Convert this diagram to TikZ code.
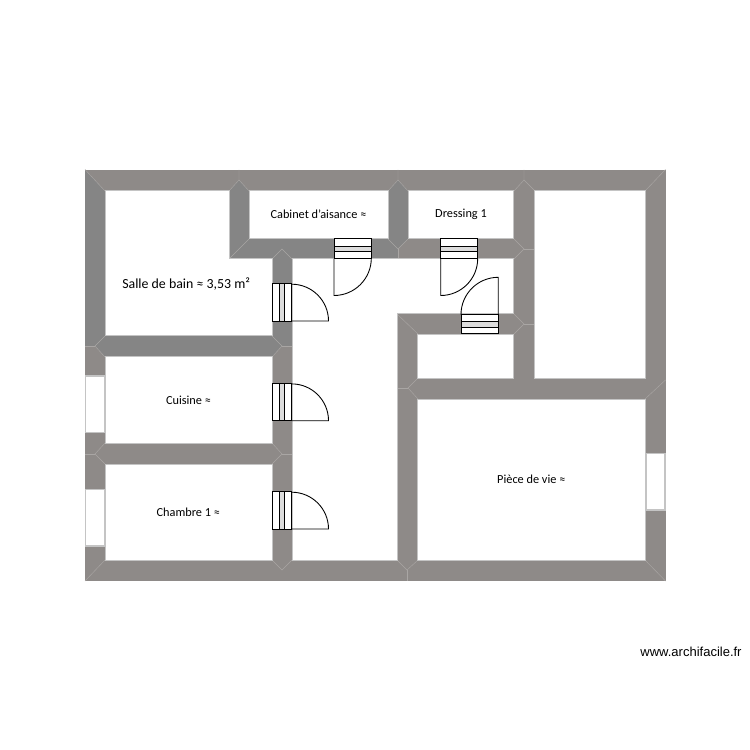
\documentclass[tikz,border=0pt]{standalone}
\usepackage{fontspec}
\setmainfont{Carlito}
\newfontfamily\markfont{Liberation Sans}
\definecolor{wallmain}{HTML}{8E8A88}
\definecolor{walldark}{HTML}{858585}
\definecolor{seamgray}{HTML}{A9A6A4}
\definecolor{edgegray}{HTML}{C4C4C4}
\definecolor{bandgray}{HTML}{DCDCDC}
\begin{document}
\begin{tikzpicture}[x=.02cm, y=-.02cm,
wall/.style={fill=wallmain},
wallb/.style={fill=walldark},
room/.style={fill=white, draw=edgegray, line width=.4pt},
windowbox/.style={fill=white, draw=edgegray, line width=.7pt},
seam/.style={draw=seamgray, line width=.25pt},
doorline/.style={draw=black, line width=.5pt},
doorbox/.style={fill=white, draw=black, line width=.5pt},
band/.style={fill=bandgray, draw=black, line width=.5pt},
roomlabel/.style={inner sep=0pt, font=\fontsize{7}{8}\selectfont},
bigroomlabel/.style={inner sep=0pt, font=\fontsize{7.9}{9}\selectfont},
marklabel/.style={inner sep=0pt, font=\markfont\fontsize{7.4}{9}\selectfont}]
\useasboundingbox (0,0) rectangle (750,750);
\fill[wall] (85,169.5) rectangle (665.5,581);
\fill[wallb] (85,169.5) -- (105,191) -- (105,336) -- (95,346) -- (85,346) -- cycle;
\fill[wallb] (239,180) -- (249,191) -- (249,239) -- (388,239) -- (398,249) -- (398,259) -- (292,259) -- (282,249) -- (272,259) -- (229,259) -- (229,191) -- cycle;
\fill[wallb] (282,249) -- (292,259) -- (292,346) -- (282,346) -- (272,336) -- (272,259) -- cycle;
\fill[wallb] (95,346) -- (105,336) -- (272,336) -- (282,346) -- (272,357) -- (105,357) -- cycle;
\fill[wallb] (398,180) -- (408,191) -- (408,239) -- (398,249) -- (388,239) -- (388,191) -- cycle;
\draw[seam] (85,169.5) -- (105,191);
\draw[seam] (239,169.5) -- (239,180) -- (229,191);
\draw[seam] (239,180) -- (249,191);
\draw[seam] (398,169.5) -- (398,180) -- (388,191);
\draw[seam] (398,180) -- (408,191);
\draw[seam] (524,169.5) -- (524,180) -- (514,191);
\draw[seam] (524,180) -- (535,191);
\draw[seam] (665.5,169.5) -- (645,191);
\draw[seam] (665.5,380) -- (645,399);
\draw[seam] (514,239) -- (524,249) -- (514,259);
\draw[seam] (524,249) -- (535,249);
\draw[seam] (514,314) -- (524,324) -- (514,334);
\draw[seam] (524,324) -- (535,324);
\draw[seam] (397,314) -- (418,334);
\draw[seam] (418,378) -- (408,388) -- (418,399);
\draw[seam] (408,388) -- (397,388);
\draw[seam] (397,560) -- (407,570) -- (418,560);
\draw[seam] (407,570) -- (407,581);
\draw[seam] (645,560) -- (665.5,581);
\draw[seam] (272,560) -- (282,570) -- (292,560);
\draw[seam] (85,581) -- (105,560);
\draw[seam] (105,443) -- (95,454) -- (105,464);
\draw[seam] (95,454) -- (85,454);
\draw[seam] (272,443) -- (282,454) -- (272,464);
\draw[seam] (282,454) -- (292,454);
\draw[seam] (105,336) -- (95,346) -- (105,357);
\draw[seam] (95,346) -- (85,346);
\draw[seam] (272,336) -- (282,346) -- (272,357);
\draw[seam] (282,346) -- (292,346);
\draw[seam] (229,259) -- (249,239);
\draw[seam] (272,259) -- (282,249) -- (292,259);
\draw[seam] (388,239) -- (398,249) -- (408,239);
\draw[seam] (398,249) -- (398,259);
\draw[room] (105,190.7) -- (229,190.7) -- (229,258.7) -- (272.3,258.7) -- (272.3,335.7) -- (105,335.7) -- cycle;
\draw[room] (249.3,190.7) rectangle (388,238.7);
\draw[room] (408.7,190.7) rectangle (513.7,238.7);
\draw[room] (292.3,258.7) -- (513.7,258.7) -- (513.7,313.7) -- (397.3,313.7) -- (397.3,560.3) -- (292.3,560.3) -- cycle;
\draw[room] (417.7,334.3) rectangle (513.7,378.3);
\draw[room] (534.7,190.7) rectangle (645,378.3);
\draw[room] (417.7,399) rectangle (645,560.3);
\draw[room] (105,356.7) rectangle (272.3,443.3);
\draw[room] (105,464.3) rectangle (272.3,560.3);
\draw[windowbox] (85.5,376) rectangle (104.5,432.3);
\draw[windowbox] (85.5,489.3) rectangle (104.5,546);
\draw[windowbox] (646,453.3) rectangle (665,510);
\draw[doorbox] (272.3,283.3) rectangle (291.7,321);
\draw[band] (279,283.3) rectangle (284.3,321);
\draw[doorline] (291.7,321) -- (328.5,321) arc[start angle=0, end angle=-90, radius=36.8];
\draw[doorbox] (272.3,383.3) rectangle (291.7,420.7);
\draw[band] (279,383.3) rectangle (284.3,420.7);
\draw[doorline] (291.7,420.7) -- (328.5,420.7) arc[start angle=0, end angle=-90, radius=36.8];
\draw[doorbox] (272.3,491.7) rectangle (291.7,529);
\draw[band] (279,491.7) rectangle (284.3,529);
\draw[doorline] (291.7,529) -- (328.5,529) arc[start angle=0, end angle=-90, radius=36.8];
\draw[doorbox] (334,238.7) rectangle (371.3,258.7);
\draw[band] (334,246) rectangle (371.3,251.7);
\draw[doorline] (334,258.7) -- (334,295.5) arc[start angle=90, end angle=0, radius=37.3];
\draw[doorbox] (440.7,238.7) rectangle (477.7,258.7);
\draw[band] (440.7,246) rectangle (477.7,251.7);
\draw[doorline] (440.7,258.7) -- (440.7,295.5) arc[start angle=90, end angle=0, radius=37];
\draw[doorbox] (461,314.3) rectangle (498.3,333.7);
\draw[band] (461,321) rectangle (498.3,327);
\draw[doorline] (498.3,314.3) -- (498.3,277.3) arc[start angle=-90, end angle=-180, radius=37.3];
\node[bigroomlabel] (salle) at (186.2,284.5) {Salle de bain ≈ 3,53 m²};
\node[roomlabel] (cabinet) at (318.5,214.5) {Cabinet d'aisance ≈};
\node[roomlabel] (dressing) at (461,214.5) {Dressing 1};
\node[roomlabel] (cuisine) at (188.5,400.5) {Cuisine ≈};
\node[roomlabel] (chambre) at (188.3,512.5) {Chambre 1 ≈};
\node[roomlabel] (piece) at (531.3,479.5) {Pièce de vie ≈};
\node[marklabel] (site) at (691,651.5) {www.archifacile.fr};
\end{tikzpicture}
\end{document}
